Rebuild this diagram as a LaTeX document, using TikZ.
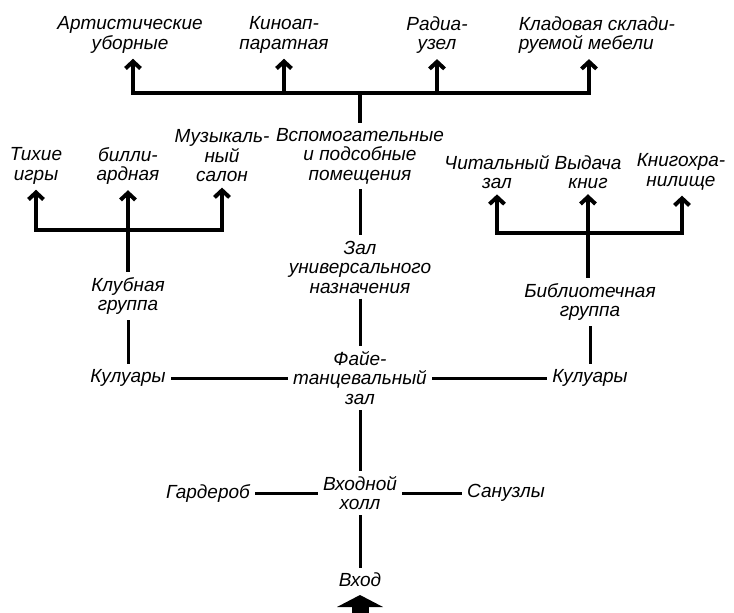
\documentclass[tikz,border=0pt]{standalone}
\usepackage{fontspec}
\setmainfont{Liberation Sans}
\usetikzlibrary{arrows.meta}

\begin{document}
\begin{tikzpicture}[x=1pt,y=-1pt,line width=3pt,
  lbl/.style={font=\itshape\fontsize{19}{19.5}\selectfont,align=center,inner sep=4pt},
  arr/.style={-{Straight Barb[length=7pt,width=15pt]}},
  brk/.style={line width=4pt}]
\useasboundingbox (0,0) rectangle (734,613);

\node[lbl] (art) at (130,35) {Артистические\\уборные};
\node[lbl] (kino) at (284,35) {Киноап-\\паратная};
\node[lbl] (radio) at (437,35) {Радиа-\\узел};
\node[lbl,align=left] (klad) at (597,35) {Кладовая склади-\\руемой мебели};

\coordinate (t1) at (133,93);
\coordinate (t2) at (284,93);
\coordinate (t3) at (437,93);
\coordinate (t4) at (589,93);
\coordinate (tm) at (360,93);

\draw[brk,line cap=rect] (t1) -- (t4);
\draw[brk,arr] (t1) -- (t1 |- art.south);
\draw[brk,arr] (t2) -- (t2 |- kino.south);
\draw[brk,arr] (t3) -- (t3 |- radio.south);
\draw[brk,arr] (t4) -- (t4 |- klad.south);

\node[lbl] (vsp) at (360,156) {Вспомогательные\\и подсобные\\помещения};
\node[lbl] (zal) at (360,267) {Зал\\универсального\\назначения};
\node[lbl] (fae) at (360,378) {Файе-\\танцевальный\\зал};
\node[lbl] (vh) at (360,493) {Входной\\холл};
\node[lbl] (vhod) at (360,580) {Вход};

\draw[brk] (tm) -- (vsp);
\draw (vsp) -- (zal);
\draw (zal) -- (fae);
\draw (fae) -- (vh);
\draw (vh) -- (vhod);

\node[lbl] (tih) at (36,166) {Тихие\\игры};
\node[lbl] (bil) at (128,166) {билли-\\ардная};
\node[lbl] (muz) at (222,156) {Музыкаль-\\ный\\салон};

\coordinate (l1) at (36,230);
\coordinate (l2) at (128,230);
\coordinate (l3) at (222,230);

\draw[brk,line cap=rect] (l1) -- (l3);
\draw[brk,arr] (l1) -- (l1 |- tih.south);
\draw[brk,arr] (l2) -- (l2 |- bil.south);
\draw[brk,arr] (l3) -- (l3 |- muz.south);

\node[lbl] (klub) at (128,296) {Клубная\\группа};
\node[lbl] (kulL) at (128,378) {Кулуары};

\draw[brk] (l2) -- (klub);
\draw (klub) -- (kulL);

\node[lbl] (chit) at (497,172) {Читальный\\зал};
\node[lbl] (vyd) at (588,172) {Выдача\\книг};
\node[lbl] (kng) at (681,172) {Книгохра-\\нилище};

\coordinate (r1) at (497,233);
\coordinate (r2) at (588,233);
\coordinate (r3) at (682,233);

\draw[brk,line cap=rect] (r1) -- (r3);
\draw[brk,arr] (r1) -- (r1 |- chit.south);
\draw[brk,arr] (r2) -- (r2 |- vyd.south);
\draw[brk,arr] (r3) -- (r3 |- kng.south);

\node[lbl] (bib) at (590,302) {Библиотечная\\группа};
\node[lbl] (kulR) at (590,378) {Кулуары};

\draw[brk] (r2) -- (r2 |- bib.north);
\draw (bib) -- (kulR);

\draw (kulL) -- (fae);
\draw (fae) -- (kulR);

\node[lbl] (gard) at (208,493) {Гардероб};
\node[lbl] (san) at (506,493) {Санузлы};

\draw (gard) -- (vh);
\draw (vh) -- (san);

\coordinate (ent) at (360,595);
\fill (ent) -- ++(-23,12) -- ++(46,0) -- cycle;
\fill (352,605) rectangle (369,613);
\end{tikzpicture}
\end{document}
